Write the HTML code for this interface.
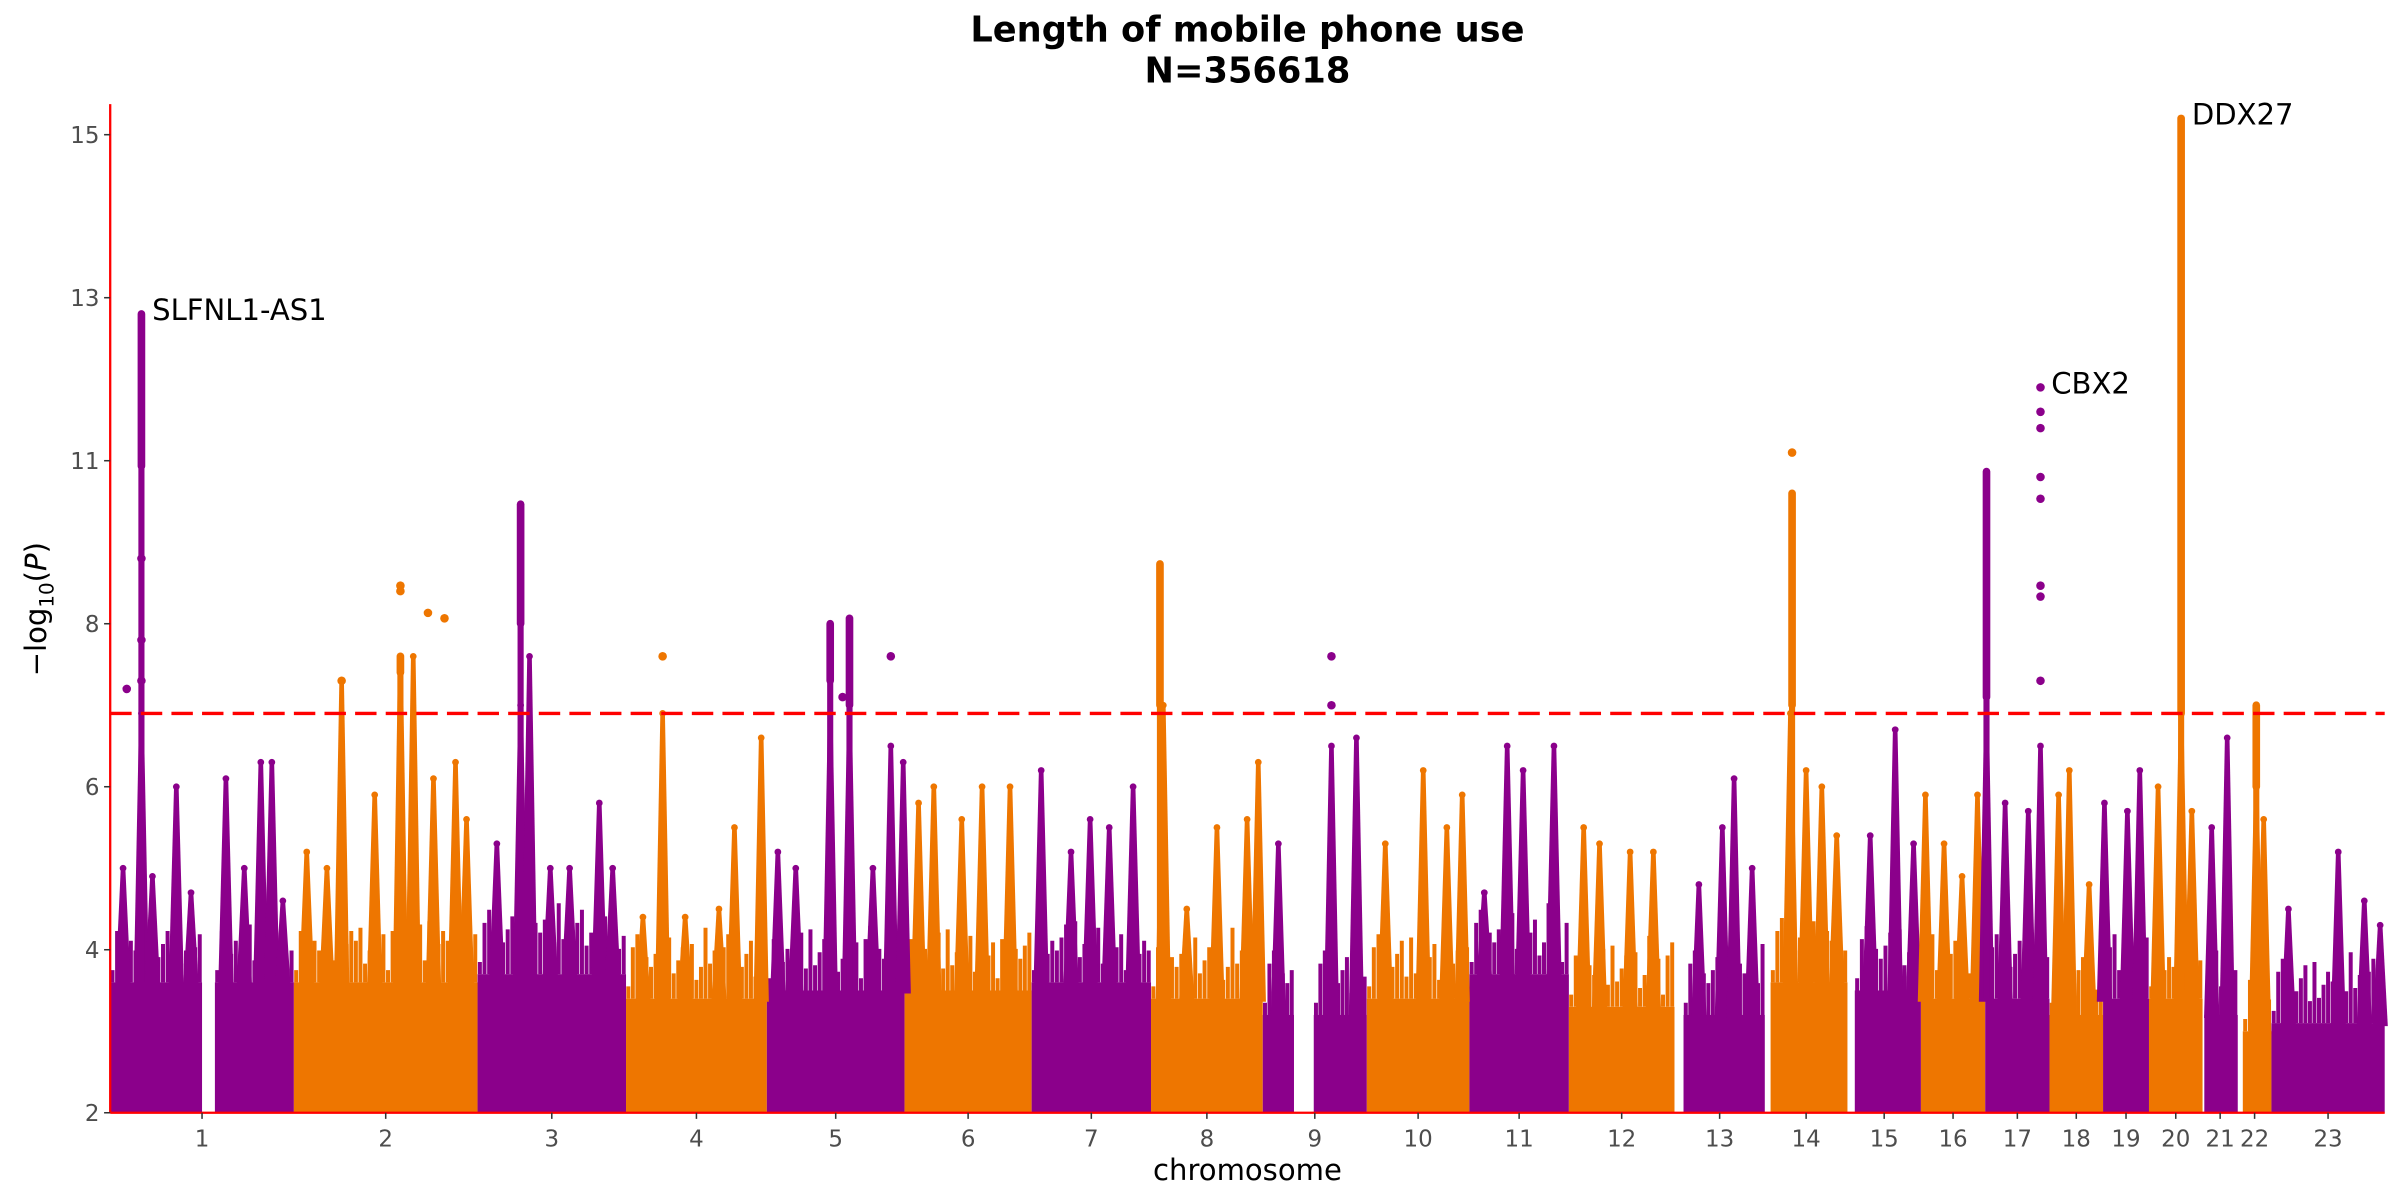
<!DOCTYPE html>
<html><head><meta charset="utf-8"><style>
html,body{margin:0;padding:0;background:#fff;}
svg{display:block;font-family:"DejaVu Sans","Liberation Sans",sans-serif;}
</style></head><body>
<svg id="chart" width="2400" height="1200" viewBox="0 0 1568 784" xmlns="http://www.w3.org/2000/svg">
<text x="815" y="27" text-anchor="middle" font-size="23" font-weight="bold">Length of mobile phone use</text>
<text x="815" y="54" text-anchor="middle" font-size="23" font-weight="bold">N=356618</text>
<g id="marks"></g>
<g id="axes"></g>
</svg>
<script>
const chromLabels=["1","2","3","4","5","6","7","8","9","10","11","12","13","14","15","16","17","18","19","20","21","22","23"];
const chromLen=[120,120,97,92,90,83,78,73,68,67,65,69,59,54,48,42,42,35,30,35,23,22,74];
const chromBase=[3.6,3.6,3.7,3.4,3.5,3.5,3.6,3.4,3.2,3.4,3.7,3.3,3.2,3.6,3.5,3.4,3.4,3.2,3.4,3.4,3.2,3.0,3.1];
const chromDataStart=[0,0,0,0,0,0,0,0,0,0,0,0,0.1,0.07,0.1,0,0,0,0,0,0.05,0.15,0];
const gapChr=[1,9];
const gapFrom=[0.5,0.3];
const gapTo=[0.57,0.49];
const spikeChr=[1,1,1,1,1,1,1,1,1,1,2,2,2,2,2,2,2,2,2,3,3,3,3,3,3,3,4,4,4,4,4,4,5,5,5,5,5,5,5,6,6,6,6,6,7,7,7,7,7,8,8,8,8,8,9,9,9,10,10,10,10,11,11,11,11,12,12,12,12,13,13,13,13,14,14,14,14,15,15,15,16,16,16,16,17,17,17,17,18,18,18,19,19,19,20,20,20,21,21,22,22,23,23,23,23];
const spikePos=[.07,.17,.23,.36,.44,.63,.73,.82,.88,.94,.07,.18,.26,.44,.58,.65,.76,.88,.94,.13,.29,.35,.49,.62,.82,.91,.12,.26,.42,.66,.77,.96,.08,.21,.46,.6,.77,.9,.99,.11,.23,.45,.61,.83,.08,.33,.49,.65,.85,.11,.32,.59,.86,.96,.15,.66,.9,.18,.55,.78,.93,.15,.38,.54,.85,.14,.29,.58,.8,.27,.53,.66,.86,.31,.5,.69,.87,.31,.65,.9,.07,.36,.64,.88,.02,.31,.67,.86,.17,.37,.74,.03,.53,.8,.17,.6,.8,.26,.7,.55,.77,.15,.59,.82,.96];
const spikeTop=[5.0,6.9,4.9,6.0,4.7,6.1,5.0,6.3,6.3,4.6,5.2,5.0,7.3,5.9,7.6,7.6,6.1,6.3,5.6,5.3,7.0,7.6,5.0,5.0,5.8,5.0,4.4,6.9,4.4,4.5,5.5,6.6,5.2,5.0,6.9,6.9,5.0,6.5,6.3,5.8,6.0,5.6,6.0,6.0,6.2,5.2,5.6,5.5,6.0,7.0,4.5,5.5,5.6,6.3,5.3,6.5,6.6,5.3,6.2,5.5,5.9,4.7,6.5,6.2,6.5,5.5,5.3,5.2,5.2,4.8,5.5,6.1,5.0,6.9,6.2,6.0,5.4,5.4,6.7,5.3,5.9,5.3,4.9,5.9,6.9,5.8,5.7,6.5,5.9,6.2,4.8,5.8,5.7,6.2,6.0,6.9,5.7,5.5,6.6,6.0,5.6,4.5,5.2,4.6,4.3];
const colChr=[1,2,3,5,5,8,14,17,20,22];
const colPos=[.17,.58,.29,.46,.6,.08,.33,.02,.6,.55];
const colLo=[10.9,7.4,8.0,7.3,7.0,7.0,7.0,7.1,6.9,6.0];
const colHi=[12.8,7.6,10.2,8.0,8.1,9.1,10.4,10.8,15.2,7.0];
const dotChr=[1,1,1,1,2,2,2,2,2,5,5,9,9,14,17,17,17,17,17,17,17,17,4];
const dotPos=[.17,.17,.17,.09,.58,.58,.73,.82,.26,.9,.55,.66,.66,.33,.86,.86,.86,.86,.86,.86,.86,.86,.26];
const dotVal=[9.2,7.8,7.3,7.2,8.6,8.7,8.2,8.1,7.3,7.6,7.1,7.6,7.0,11.1,11.9,11.6,11.4,10.7,10.3,8.7,8.5,7.3,7.6];
const yTicks=[2,4,6,8,11,13,15];
const threshold=6.9;
const annText=["SLFNL1-AS1","CBX2","DDX27"];
const annChr=[1,17,20];
const annPos=[.17,.86,.6];
const annVal=[12.8,11.9,15.2];

const NS="http://www.w3.org/2000/svg";
const X0=72,X1=1558,YB=727,YT=88;
const totalLen=chromLen.reduce((a,b)=>a+b,0);
const chromStart=[];let acc=0;chromLen.forEach(l=>{chromStart.push(acc);acc+=l;});
function xs(chr,frac){const i=chr-1;return X0+(chromStart[i]+frac*chromLen[i])/totalLen*(X1-X0);}
function ys(v){const step=(YB-YT)/(yTicks.length-1);
 for(let i=0;i<yTicks.length-1;i++){if(v<=yTicks[i+1]||i===yTicks.length-2){return YB-(i+(v-yTicks[i])/(yTicks[i+1]-yTicks[i]))*step;}}}
function col(chr){return chr%2===1?"#8B008B":"#EE7600";}
function mk(tag,attrs,parent){const e=document.createElementNS(NS,tag);for(const k in attrs)e.setAttribute(k,attrs[k]);parent.appendChild(e);return e;}
const marks=document.getElementById('marks'),axes=document.getElementById('axes');
chromLen.forEach((l,i)=>{const chr=i+1;
 let segs=[[chromDataStart[i],1]];
 gapChr.forEach((g,j)=>{if(g===chr){segs=[[chromDataStart[i],gapFrom[j]],[gapTo[j],1]];}});
 segs.forEach(s=>{const xa=xs(chr,s[0]),xb=xs(chr,s[1]);
  const r=mk('rect',{x:xa,y:ys(chromBase[i]),width:xb-xa,height:YB-ys(chromBase[i]),fill:col(chr)},marks);
  
  
  const p=mk('path',{d:'',fill:col(chr)},marks);
  let d='';const n=Math.max(2,Math.round((xb-xa)/3));
  for(let k=0;k<n;k++){const xx=xa+(k+0.5)*(xb-xa)/n;const t=ys(chromBase[i]+0.15+((k*7)%5)*0.12+((k*3)%4)*0.08);
   d+=`M${xx-1.3},${ys(chromBase[i])}L${xx-1.3},${t}L${xx+1.3},${t}L${xx+1.3},${ys(chromBase[i])}Z`;}
  p.setAttribute('d',d);
  
  
 });
});
spikeChr.forEach((c,i)=>{const x=xs(c,spikePos[i]);const b=ys(chromBase[c-1]);const t=ys(spikeTop[i]);
 const p=mk('polygon',{points:`${x-5},${b+2} ${x-1.5},${t} ${x+1.5},${t} ${x+5},${b+2}`,fill:col(c)},marks);
 
 
 const d=mk('circle',{cx:x,cy:t,r:2.2,fill:col(c)},marks);
 
 
});
colChr.forEach((c,i)=>{const x=xs(c,colPos[i]);
 const l=mk('line',{x1:x,x2:x,y1:ys(colLo[i]),y2:ys(colHi[i]),stroke:col(c),'stroke-width':5,'stroke-linecap':'round'},marks);
 
 
 const l2=mk('line',{x1:x,x2:x,y1:ys(colLo[i]),y2:ys(chromBase[c-1]),stroke:col(c),'stroke-width':4},marks);
 
 
});
dotChr.forEach((c,i)=>{const d=mk('circle',{cx:xs(c,dotPos[i]),cy:ys(dotVal[i]),r:2.8,fill:col(c)},marks);
 
 });
const th=mk('line',{x1:X0,x2:X1,y1:ys(threshold),y2:ys(threshold),stroke:'#FF0000','stroke-width':2.2,'stroke-dasharray':'14 6'},marks);


annText.forEach((t,i)=>{const e=mk('text',{x:xs(annChr[i],annPos[i])+7,y:ys(annVal[i])+4,'font-size':19},marks);e.textContent=t;
 
 });
const ya=mk('line',{x1:X0,x2:X0,y1:68,y2:YB,stroke:'#FF0000','stroke-width':1.5},axes);


const xa=mk('line',{x1:X0,x2:X1,y1:YB,y2:YB,stroke:'#FF0000','stroke-width':1.5},axes);


yTicks.forEach(v=>{const y=ys(v);
 const tk=mk('line',{x1:X0-4,x2:X0,y1:y,y2:y,stroke:'#333','stroke-width':1},axes);
 
 
 const t=mk('text',{x:X0-7,y:y+5.5,'text-anchor':'end','font-size':15,fill:'#4d4d4d'},axes);t.textContent=v;
 
 });
chromLabels.forEach((lab,i)=>{const x=xs(i+1,0.5);
 const tk=mk('line',{x1:x,x2:x,y1:YB,y2:YB+4,stroke:'#333','stroke-width':1},axes);
 
 
 const t=mk('text',{x:x,y:YB+22,'text-anchor':'middle','font-size':15,fill:'#4d4d4d'},axes);t.textContent=lab;
 
 });
const xt=mk('text',{x:(X0+X1)/2,y:771,'text-anchor':'middle','font-size':19},axes);xt.textContent='chromosome';


const yt=mk('text',{x:0,y:0,'text-anchor':'middle','font-size':19,transform:'translate(30,398) rotate(-90)'},axes);


yt.innerHTML='−log<tspan font-size="13" dy="5">10</tspan><tspan dy="-5">(</tspan><tspan font-style="italic">P</tspan>)';
</script>
</body></html>
